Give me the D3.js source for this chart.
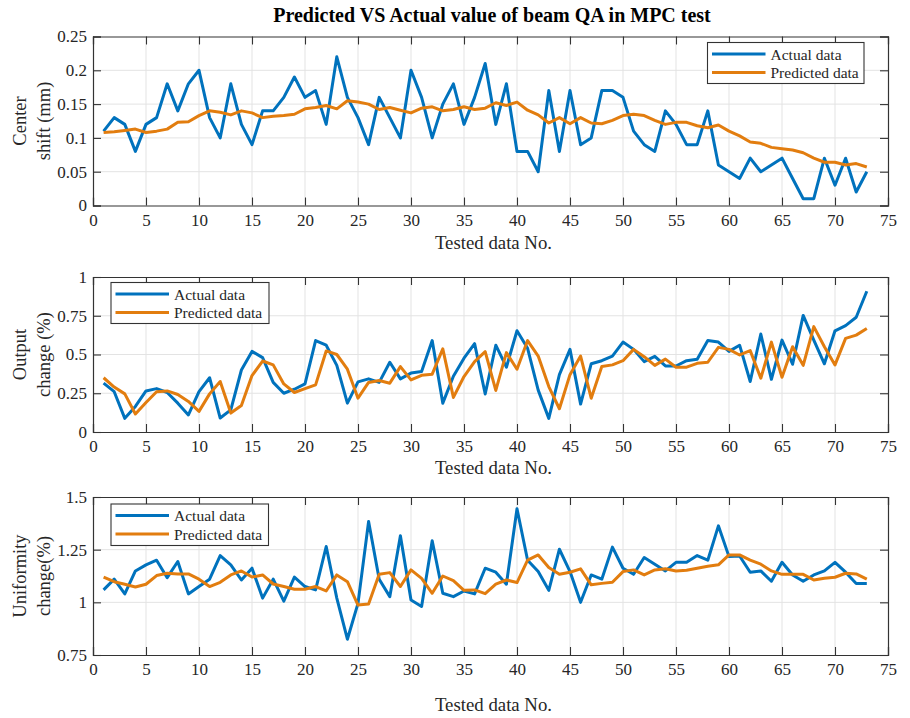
<!DOCTYPE html>
<html>
<head>
<meta charset="utf-8">
<script src="https://cdn.jsdelivr.net/npm/d3@7"></script>
<style>
  html, body { margin: 0; padding: 0; background: #fff; }
  svg { display: block; }
  text { font-family: "Liberation Serif", "Times New Roman", serif; fill: #262626; }
</style>
</head>
<body>
<svg id="chart" width="910" height="718"></svg>
<script>
// ---------------- DATA ----------------
const title = "Predicted VS Actual value of beam QA in MPC test";
const xLabel = "Tested data No.";
const seriesNames = ["Actual data", "Predicted data"];
const xTicks = [0,5,10,15,20,25,30,35,40,45,50,55,60,65,70,75];

const centerActual = [0.11,0.13,0.12,0.08,0.12,0.13,0.18,0.14,0.18,0.20,0.13,0.10,0.18,0.12,0.09,0.14,0.14,0.16,0.19,0.16,0.17,0.12,0.22,0.16,0.13,0.09,0.16,0.13,0.10,0.20,0.16,0.10,0.15,0.18,0.12,0.16,0.21,0.12,0.18,0.08,0.08,0.05,0.17,0.08,0.17,0.09,0.10,0.17,0.17,0.16,0.11,0.09,0.08,0.14,0.12,0.09,0.09,0.14,0.06,0.05,0.04,0.07,0.05,0.06,0.07,0.04,0.01,0.01,0.07,0.03,0.07,0.02,0.05];
const centerPred = [0.108,0.109,0.111,0.113,0.108,0.110,0.113,0.123,0.124,0.133,0.140,0.138,0.134,0.140,0.137,0.130,0.132,0.133,0.135,0.143,0.145,0.148,0.143,0.155,0.153,0.150,0.142,0.145,0.141,0.137,0.144,0.146,0.140,0.142,0.146,0.142,0.144,0.152,0.148,0.153,0.141,0.134,0.122,0.130,0.121,0.130,0.122,0.121,0.126,0.133,0.135,0.133,0.126,0.120,0.123,0.123,0.118,0.115,0.119,0.110,0.103,0.094,0.092,0.086,0.084,0.082,0.078,0.070,0.064,0.064,0.060,0.062,0.057];

const outputActual = [0.315,0.26,0.088,0.165,0.265,0.28,0.255,0.186,0.11,0.26,0.35,0.09,0.143,0.40,0.52,0.48,0.32,0.25,0.276,0.31,0.59,0.56,0.43,0.186,0.323,0.343,0.32,0.45,0.343,0.38,0.39,0.59,0.186,0.36,0.476,0.57,0.245,0.56,0.418,0.653,0.54,0.27,0.088,0.37,0.533,0.18,0.44,0.46,0.49,0.58,0.533,0.454,0.488,0.426,0.426,0.46,0.47,0.59,0.58,0.52,0.56,0.326,0.632,0.34,0.593,0.437,0.752,0.593,0.44,0.653,0.686,0.74,0.908];
const outputPred = [0.35,0.29,0.246,0.116,0.19,0.26,0.265,0.242,0.197,0.133,0.246,0.326,0.122,0.171,0.364,0.458,0.433,0.31,0.255,0.28,0.304,0.523,0.50,0.405,0.218,0.32,0.332,0.315,0.422,0.336,0.366,0.373,0.536,0.223,0.358,0.454,0.518,0.268,0.512,0.405,0.59,0.49,0.293,0.15,0.37,0.49,0.218,0.422,0.433,0.46,0.533,0.486,0.43,0.47,0.418,0.418,0.443,0.45,0.546,0.533,0.497,0.525,0.347,0.58,0.353,0.55,0.43,0.68,0.55,0.433,0.604,0.625,0.668];

const unifActual = [1.059,1.11,1.04,1.149,1.178,1.20,1.117,1.194,1.04,1.075,1.11,1.222,1.178,1.106,1.162,1.02,1.11,1.006,1.12,1.075,1.059,1.265,1.02,0.825,0.995,1.384,1.11,1.027,1.316,1.011,0.98,1.292,1.043,1.027,1.054,1.04,1.162,1.143,1.086,1.444,1.20,1.146,1.057,1.252,1.146,1.0,1.13,1.11,1.262,1.162,1.133,1.213,1.181,1.149,1.19,1.19,1.222,1.20,1.363,1.217,1.22,1.143,1.149,1.10,1.19,1.13,1.10,1.13,1.149,1.19,1.143,1.089,1.089];
const unifPred = [1.12,1.098,1.086,1.073,1.086,1.127,1.138,1.135,1.135,1.11,1.075,1.095,1.13,1.149,1.12,1.13,1.087,1.075,1.062,1.062,1.075,1.054,1.13,1.098,0.987,0.992,1.133,1.141,1.075,1.154,1.114,1.043,1.125,1.103,1.057,1.059,1.041,1.086,1.106,1.094,1.20,1.225,1.165,1.133,1.143,1.159,1.083,1.09,1.095,1.146,1.154,1.13,1.154,1.159,1.149,1.152,1.162,1.171,1.178,1.225,1.225,1.20,1.181,1.149,1.133,1.133,1.133,1.106,1.114,1.119,1.138,1.135,1.11];

const centerTicks = [0,0.05,0.1,0.15,0.2,0.25];
const centerTickLabels = ["0","0.05","0.1","0.15","0.2","0.25"];
const outputTicks = [0,0.25,0.5,0.75,1];
const outputTickLabels = ["0","0.25","0.5","0.75","1"];
const unifTicks = [0.75,1,1.25,1.5];
const unifTickLabels = ["0.75","1","1.25","1.5"];

// ---------------- LAYOUT ----------------
const left = 93, right = 888;
const colors = ["#0072BD", "#E27D0F"];
const serif = '"Liberation Serif", "Times New Roman", serif';
const svg = d3.select("#chart");

svg.append("text")
  .attr("x", 492).attr("y", 22)
  .attr("text-anchor", "middle")
  .style("font-family", serif)
  .style("font-size", "20px").style("font-weight", "bold").style("fill", "#000")
  .text(title);

const panels = [
  { top: 36.5, bottom: 205.5, dom: [0, 0.25], ticks: centerTicks, labels: centerTickLabels,
    a: centerActual, p: centerPred, ylab: ["Center", "shift (mm)"], xlabY: 249,
    legend: { x: 707.5, y: 42.5, w: 156.5, h: 41 } },
  { top: 277, bottom: 432, dom: [0, 1], ticks: outputTicks, labels: outputTickLabels,
    a: outputActual, p: outputPred, ylab: ["Output", "change (%)"], xlabY: 474,
    legend: { x: 111, y: 282.5, w: 158, h: 41 } },
  { top: 497, bottom: 655, dom: [0.75, 1.5], ticks: unifTicks, labels: unifTickLabels,
    a: unifActual, p: unifPred, ylab: ["Uniformity", "change(%)"], xlabY: 711,
    legend: { x: 111, y: 504, w: 157.5, h: 41.5 } }
];

const x = d3.scaleLinear().domain([0, 75]).range([left, right]);

panels.forEach(pn => {
  const y = d3.scaleLinear().domain(pn.dom).range([pn.bottom, pn.top]);
  const g = svg.append("g");

  // grid
  g.append("g").selectAll("line").data(xTicks.slice(1, -1)).join("line")
    .attr("x1", d => x(d)).attr("x2", d => x(d))
    .attr("y1", pn.top).attr("y2", pn.bottom)
    .attr("stroke", "#e3e3e3").attr("stroke-width", 1);
  g.append("g").selectAll("line").data(pn.ticks.slice(1, -1)).join("line")
    .attr("x1", left).attr("x2", right)
    .attr("y1", d => y(d)).attr("y2", d => y(d))
    .attr("stroke", "#e3e3e3").attr("stroke-width", 1);

  // lines
  const idx = d3.range(1, pn.a.length + 1);
  const line = d3.line().x((d, i) => x(idx[i])).y(d => y(d));
  [pn.a, pn.p].forEach((s, k) => {
    g.append("path").datum(s)
      .attr("d", line)
      .attr("fill", "none")
      .attr("stroke", colors[k])
      .attr("stroke-width", 3)
      .attr("stroke-linejoin", "round");
  });

  // axes (MATLAB box style, ticks inward on all sides)
  const tl = 8;
  const axB = d3.axisBottom(x).tickValues(xTicks).tickSize(-tl).tickPadding(8).tickFormat(d3.format("d"));
  const axT = d3.axisTop(x).tickValues(xTicks).tickSize(-tl).tickFormat("");
  const axL = d3.axisLeft(y).tickValues(pn.ticks).tickSize(-tl).tickPadding(6)
      .tickFormat((d, i) => pn.labels[i]);
  const axR = d3.axisRight(y).tickValues(pn.ticks).tickSize(-tl).tickFormat("");

  const style = sel => {
    sel.attr("font-family", serif).attr("font-size", 17);
    sel.selectAll("path.domain").attr("stroke", "#333").attr("stroke-width", 1.2);
    sel.selectAll(".tick line").attr("stroke", "#333").attr("stroke-width", 1.1);
    sel.selectAll(".tick text").style("font-family", serif)
      .style("font-size", "17px").attr("fill", "#262626");
  };
  g.append("g").attr("transform", `translate(0,${pn.bottom})`).call(axB).call(style);
  g.append("g").attr("transform", `translate(0,${pn.top})`).call(axT).call(style);
  g.append("g").attr("transform", `translate(${left},0)`).call(axL).call(style);
  g.append("g").attr("transform", `translate(${right},0)`).call(axR).call(style);

  // x label
  g.append("text").attr("x", (left + right) / 2 + 3).attr("y", pn.xlabY)
    .attr("text-anchor", "middle").style("font-family", serif).style("font-size", "18.8px").text(xLabel);

  // y label (two lines)
  const cy = (pn.top + pn.bottom) / 2;
  const yl = g.append("text").attr("transform", `translate(26,${cy}) rotate(-90)`)
    .attr("text-anchor", "middle").style("font-family", serif).style("font-size", "18.5px");
  yl.append("tspan").attr("x", 0).attr("dy", 0).text(pn.ylab[0]);
  yl.append("tspan").attr("x", 0).attr("dy", 24).text(pn.ylab[1]);

  // legend
  const L = pn.legend;
  const lg = g.append("g");
  lg.append("rect").attr("x", L.x).attr("y", L.y).attr("width", L.w).attr("height", L.h)
    .attr("fill", "#fff").attr("stroke", "#333").attr("stroke-width", 1.1);
  seriesNames.forEach((nm, k) => {
    const ly = L.y + 11.5 + k * 18.5;
    lg.append("line").attr("x1", L.x + 4.5).attr("x2", L.x + 58).attr("y1", ly).attr("y2", ly)
      .attr("stroke", colors[k]).attr("stroke-width", 3);
    lg.append("text").attr("x", L.x + 63).attr("y", ly + 5.5)
      .style("font-family", serif).style("font-size", "15.5px").text(nm);
  });
});
</script>
</body>
</html>
